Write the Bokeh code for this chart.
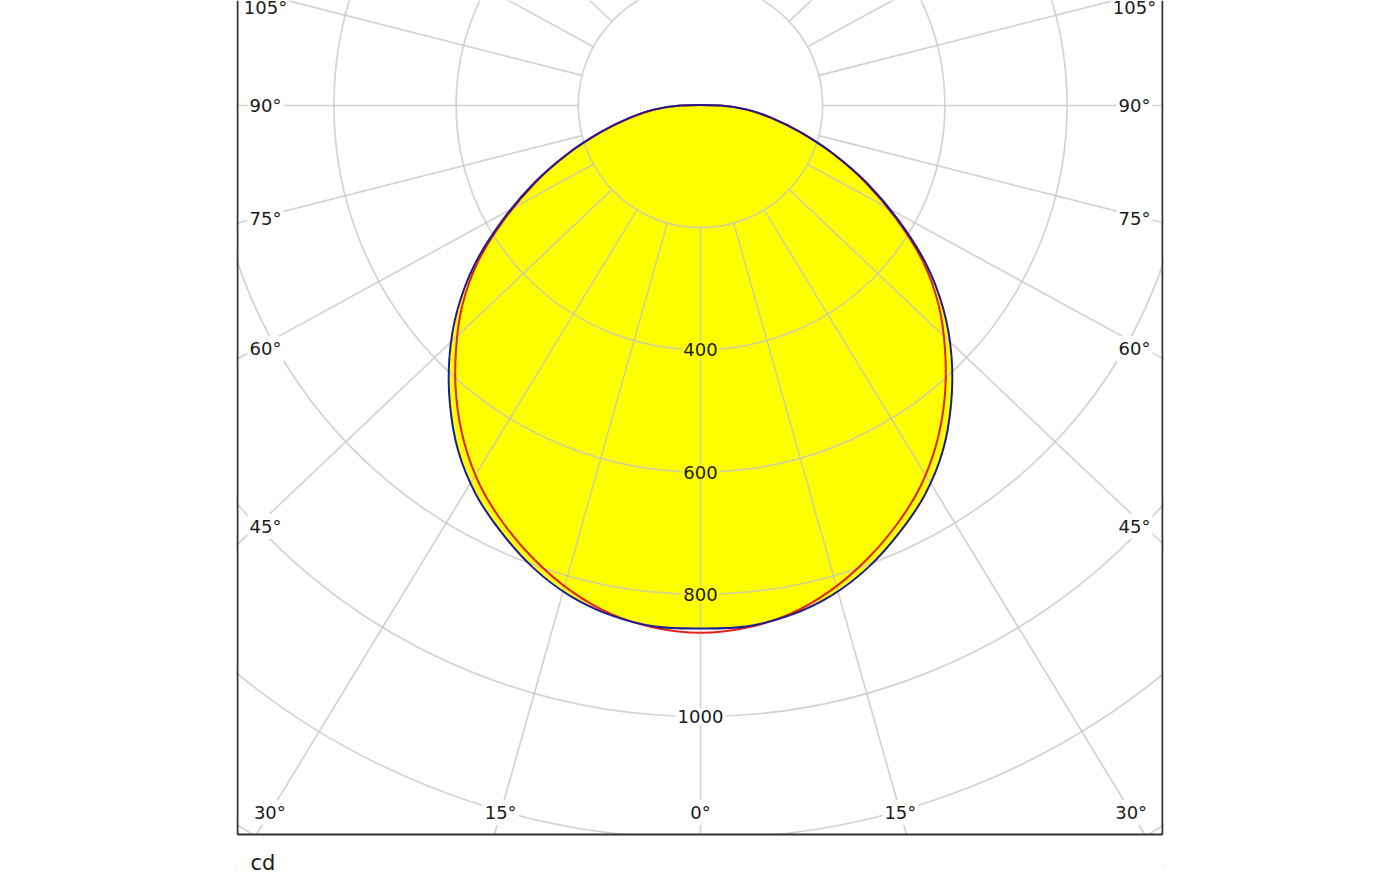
import numpy as np
from bokeh.plotting import figure
from bokeh.models import Range1d, Label
from bokeh.core.properties import value
from bokeh.embed import file_html
from bokeh.resources import INLINE

# ---------------- data ----------------
gamma_deg = [0, 5, 10, 15, 20, 25, 30, 35, 40, 45, 50, 55, 60, 65, 70, 75, 80, 85, 90]
c0_c180_cd = [856, 856, 847, 830, 804, 771, 735, 691, 638, 581, 519, 450, 373, 301, 232, 170, 119, 77, 33]
c90_c270_cd = [863, 858, 845, 822, 792, 758, 720, 674, 622, 566, 509, 444, 369, 298, 230, 169, 118, 75, 33]

ring_values = [200, 400, 600, 800, 1000, 1200, 1400, 1600]
ring_label_values = [400, 600, 800, 1000]
inside_curve_labels = [400, 600, 800]
spoke_angles = list(range(0, 360, 15))
side_label_angles = [45, 60, 75, 90, 105]
bottom_label_angles = [0, 15, 30]
unit_label = "cd"

# ---------------- layout ----------------
S = 0.611             # px per cd
W, H = 1400, 875      # canvas size
FL, FW = 236, 927     # frame left / width (px)
BOTTOM = 834          # bottom border of the diagram (px from top)
CX, CY = 464, 105     # polar centre (px from frame left / top)
K = 1.055             # horizontal stretch of the angle spokes in the reference
FONT = "DejaVu Sans"
TXT = "#1a1a1a"
GRID = "#c4c4c4"

p = figure(width=W, height=H,
           x_range=Range1d(-CX / S, (FW - CX) / S),
           y_range=Range1d(-(H - CY) / S, CY / S),
           output_backend="svg", toolbar_location=None,
           x_axis_location=None, y_axis_location=None,
           min_border_left=FL, min_border_right=W - FL - FW,
           min_border_top=0, min_border_bottom=0,
           margin=0)
p.grid.visible = False
p.outline_line_color = None
p.background_fill_color = "white"
p.border_fill_color = "white"

g = np.radians(gamma_deg)


def curve(vals):
    """closed polar curve, mirrored to both sides (left 90 deg ... 0 ... right 90 deg)"""
    v = np.array(vals, dtype=float)
    xs_r = v * np.sin(g)
    ys_r = -v * np.cos(g)
    xs = np.concatenate([-xs_r[::-1], xs_r[1:]])
    ys = np.concatenate([ys_r[::-1], ys_r[1:]])
    return xs, ys


def smooth_segments(xs, ys):
    """Catmull-Rom control points for the closed curve through the data points"""
    x = np.array(xs); y = np.array(ys)
    xp, yp = np.roll(x, 1), np.roll(y, 1)
    xn, yn = np.roll(x, -1), np.roll(y, -1)
    xnn, ynn = np.roll(x, -2), np.roll(y, -2)
    return dict(x0=x, y0=y, x1=xn, y1=yn,
                cx0=x + (xn - xp) / 6, cy0=y + (yn - yp) / 6,
                cx1=xn - (xnn - x) / 6, cy1=yn - (ynn - y) / 6)


bx, by = curve(c0_c180_cd)
rx, ry = curve(c90_c270_cd)

# yellow area
p.patch(bx, by, fill_color="#ffff00", line_color=None)

# grid: rings
p.circle(x=[0] * len(ring_values), y=[0] * len(ring_values), radius=ring_values,
         fill_color=None, line_color=GRID, line_alpha=0.75, line_width=1.7)

# grid: spokes (from the 200 cd ring outwards)
sx, sy = [], []
for a in spoke_angles:
    t = np.radians(a)
    dx, dy = K * np.sin(t), -np.cos(t)
    n = np.hypot(dx, dy)
    dx, dy = dx / n, dy / n
    sx.append([ring_values[0] * dx, 4000 * dx])
    sy.append([ring_values[0] * dy, 4000 * dy])
p.multi_line(sx, sy, line_color=GRID, line_alpha=0.75, line_width=1.7)

# curves (smooth)
p.bezier(**smooth_segments(rx, ry), line_color="#e3201b", line_width=2)
p.bezier(**smooth_segments(bx, by), line_color="#1c1c8f", line_width=2)

# white strip below the diagram
yb = -(BOTTOM - CY) / S
ybot = -(H - CY) / S
p.quad(left=-CX / S, right=(FW - CX) / S, top=yb, bottom=ybot,
       fill_color="white", line_color=None)

# frame (left, right, bottom)
x0, x1 = -CX / S + 1 / S, (FW - CX) / S - 1 / S
p.segment(x0=[x0, x1, x0], y0=[CY / S, CY / S, yb], x1=[x0, x1, x1], y1=[yb, yb, yb],
          line_color="#333333", line_width=2)

# unit text
p.text(x=[(250 - FL - CX) / S], y=[-(862 - CY) / S], text=[unit_label],
       text_font=value(FONT), text_font_size="21px", text_color=TXT,
       text_align="left", text_baseline="middle")

# ring labels
for v in ring_label_values:
    bg = "#ffff00" if v in inside_curve_labels else "white"
    p.add_layout(Label(x=0, y=-v, text=str(v), text_align="center", text_baseline="middle",
                       text_font=FONT, text_font_size="18px", text_color=TXT,
                       background_fill_color=bg, background_fill_alpha=1.0, padding=2))


def add_angle_label(a, xpx, ypx):
    p.add_layout(Label(x=xpx / S, y=-ypx / S, text=f"{a}°", text_align="center",
                       text_baseline="middle", text_font=FONT, text_font_size="18px",
                       text_color=TXT, background_fill_color="white",
                       background_fill_alpha=1.0, padding=2))


# side labels (on the spokes near the left/right edges)
for a in side_label_angles:
    t = np.radians(a)
    ydown = 0.0 if a == 90 else (CX - 20) / (K * np.tan(t))
    ydown = max(ydown, 7 - CY)          # keep label inside the picture
    add_angle_label(a, -(CX - 29), ydown)
    add_angle_label(a, (FW - CX - 29), ydown)

# bottom labels
for a in bottom_label_angles:
    t = np.radians(a)
    ydown = BOTTOM - CY - 22
    xr = ydown * K * np.tan(t)
    if a == 0:
        add_angle_label(a, 0, ydown)
    else:
        add_angle_label(a, -xr, ydown)
        add_angle_label(a, xr, ydown)

open("out.html", "w").write(file_html(p, INLINE))
